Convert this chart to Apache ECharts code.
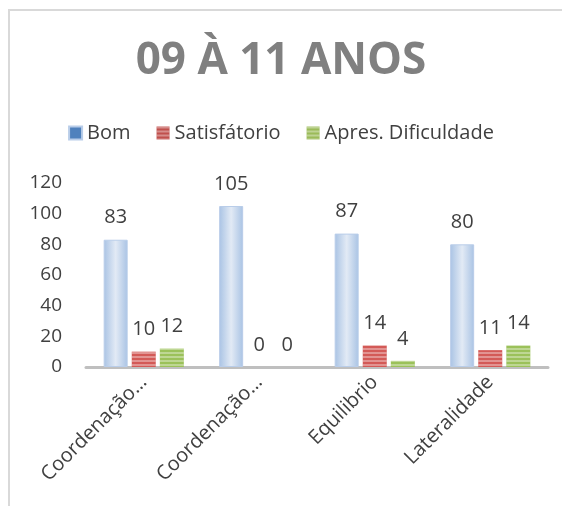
<!DOCTYPE html>
<html>
<head>
<meta charset="utf-8">
<script src="https://cdn.jsdelivr.net/npm/echarts@6/dist/echarts.min.js"></script>
<style>
  html, body { margin: 0; padding: 0; background: #fff; }
  #main { width: 562px; height: 506px; }
</style>
</head>
<body>
<div id="main"></div>
<script>
// dados
var categorias = ['Coordenação…', 'Coordenação…', 'Equilibrio', 'Lateralidade']
var bom = [83, 105, 87, 80]
var satisfatorio = [10, 0, 14, 11]
var dificuldade = [12, 0, 4, 14]
var yTicks = [0, 20, 40, 60, 80, 100, 120]

var fonte = '"Open Sans", sans-serif'
var myChart = echarts.init(document.getElementById('main'))

var listras = {
  symbol: 'rect',
  dashArrayX: [1, 0],
  dashArrayY: [2, 2],
  rotation: 0,
  color: 'rgba(255,255,255,0.35)'
}

var rotulo = {
  show: true,
  position: 'top',
  distance: 12,
  color: '#404040',
  fontSize: 20,
  fontFamily: fonte
}

var option = {
  animation: false,
  title: {
    text: '09 À 11 ANOS',
    left: 'center',
    top: 34,
    textStyle: {
      color: '#808080',
      fontSize: 44,
      fontWeight: 'bold',
      fontFamily: fonte
    }
  },
  legend: {
    top: 118,
    left: 'center',
    icon: 'rect',
    itemWidth: 13,
    itemHeight: 13,
    itemGap: 26,
    textStyle: { color: '#404040', fontSize: 20, fontFamily: fonte },
    data: [
      { name: 'Bom', itemStyle: { color: '#4f81bd' } },
      { name: 'Satisfátorio', itemStyle: { color: '#c0504d' } },
      { name: 'Apres. Dificuldade', itemStyle: { color: '#9bbb59' } }
    ]
  },
  graphic: [{
    type: 'rect',
    shape: { x: 9, y: 10, width: 700, height: 700 },
    style: { fill: 'none', stroke: '#d9d9d9', lineWidth: 2 },
    silent: true
  }],
  grid: {
    left: 86,
    right: 14,
    top: 183,
    bottom: 139
  },
  xAxis: {
    type: 'category',
    data: categorias,
    axisTick: { show: false },
    axisLine: { lineStyle: { color: '#bfbfbf', width: 3 } },
    axisLabel: {
      rotate: 45,
      interval: 0,
      margin: 12,
      color: '#404040',
      fontSize: 20,
      fontFamily: fonte
    }
  },
  yAxis: {
    type: 'value',
    min: yTicks[0],
    max: yTicks[yTicks.length - 1],
    interval: 20,
    splitLine: { show: false },
    axisLine: { show: false },
    axisTick: { show: false },
    axisLabel: {
      margin: 24,
      color: '#404040',
      fontSize: 19,
      fontFamily: fonte
    }
  },
  series: [
    {
      name: 'Bom',
      type: 'bar',
      data: bom,
      barWidth: 24,
      barGap: '17%',
      itemStyle: {
        color: new echarts.graphic.LinearGradient(0, 0, 1, 0, [
          { offset: 0, color: '#a9c3e4' },
          { offset: 0.5, color: '#e2eaf5' },
          { offset: 1, color: '#a9c3e4' }
        ]),
        borderColor: '#b9cde9',
        borderWidth: 1
      },
      label: rotulo
    },
    {
      name: 'Satisfátorio',
      type: 'bar',
      data: satisfatorio,
      barWidth: 24,
      itemStyle: { color: '#d35a57', decal: listras },
      label: rotulo
    },
    {
      name: 'Apres. Dificuldade',
      type: 'bar',
      data: dificuldade,
      barWidth: 24,
      itemStyle: { color: '#9bc15a', decal: listras },
      label: rotulo
    }
  ]
}

myChart.setOption(option)
</script>
</body>
</html>
